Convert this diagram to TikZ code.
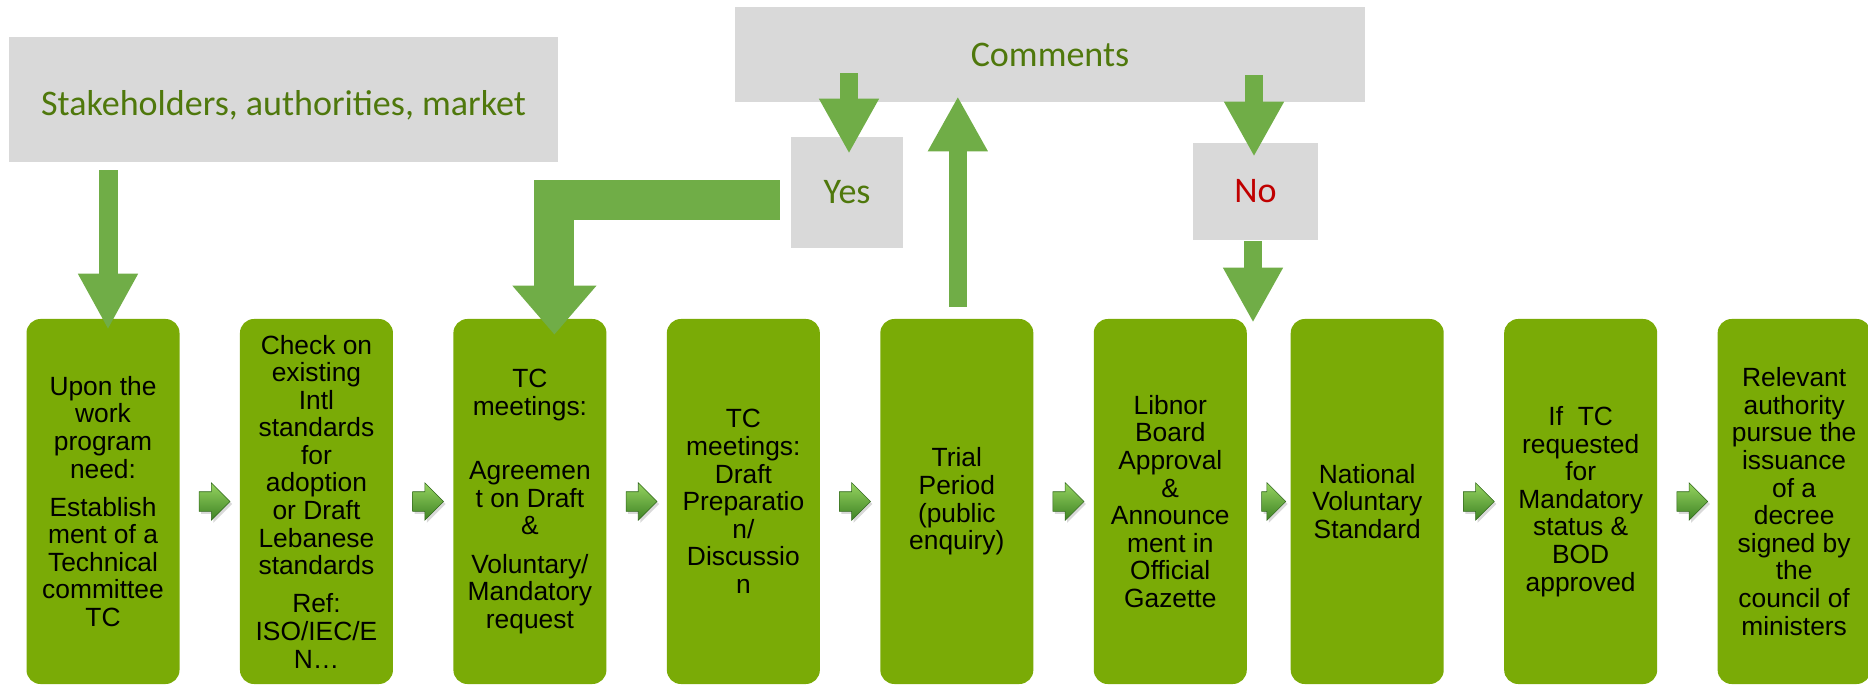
\documentclass[tikz,border=0pt]{standalone}
\usepackage{fontspec}
\setmainfont{Liberation Sans}
\newfontfamily\calfont{Carlito}
\usetikzlibrary{calc,positioning,arrows.meta,shapes.arrows,shadows}
\definecolor{boxgreen}{RGB}{122,171,6}
\definecolor{flowgreen}{RGB}{112,173,71}
\definecolor{notegray}{RGB}{217,217,217}
\definecolor{notetext}{RGB}{79,120,12}
\definecolor{notered}{RGB}{192,0,0}
\definecolor{tiplight}{RGB}{150,212,96}
\definecolor{tipdark}{RGB}{62,130,36}

\begin{document}
\begin{tikzpicture}
      \tikzset{
	  stagebox/.style={rectangle, rounded corners=0.28cm, fill=boxgreen, minimum width=3.06cm, minimum height=7.3cm, inner sep=0pt, align=center, font=\fontsize{15}{15.7}\selectfont},
	  notebox/.style={rectangle, fill=notegray, inner sep=0pt, text=notetext, font=\calfont\fontsize{20.5}{24}\selectfont},
	  nextarrow/.style={single arrow, single arrow head extend=0.18cm, text height=0.38cm, text depth=0pt, minimum height=0.62cm, inner sep=0pt, draw=tipdark!80!black, line width=0.3pt, top color=tiplight, bottom color=tipdark, drop shadow={opacity=0.3, shadow xshift=0.04cm, shadow yshift=-0.05cm}},
	  bigarrow/.style={draw=flowgreen, line width=0.36cm, -{Triangle[length=1.1cm, width=1.12cm]}},
      }
      \useasboundingbox (0,0) rectangle (37.36,-13.72);

      % grey boxes on top
      \node (stake) at (5.67,-1.99) [notebox, minimum width=10.96cm, minimum height=2.5cm, text height=0.72cm] {Stakeholders, authorities, market};
      \node (comments) at (21.0,-1.09) [notebox, minimum width=12.6cm, minimum height=1.9cm] {Comments};
      \node (yes) at (16.94,-3.85) [notebox, minimum width=2.24cm, minimum height=2.22cm] {Yes};
      \node (no) at (25.11,-3.83) [notebox, minimum width=2.5cm, minimum height=1.94cm, text=notered] {No};

      % the stages
      \node (b1) at (2.06,-10.03) [stagebox] {Upon the\\work\\program\\need:\\[6pt]Establish\\ment of a\\Technical\\committee\\TC};
      \node (b2) [stagebox, right=1.195cm of b1] {Check on\\existing\\Intl\\standards\\for\\adoption\\or Draft\\Lebanese\\standards\\[6pt]Ref:\\ISO/IEC/E\\N…};
      \node (b3) [stagebox, right=1.195cm of b2] {TC\\meetings:\\[21pt]Agreemen\\t on Draft\\\&\\[6pt]Voluntary/\\Mandatory\\request};
      \node (b4) [stagebox, right=1.195cm of b3] {TC\\meetings:\\Draft\\Preparatio\\n/\\Discussio\\n};
      \node (b5) [stagebox, right=1.195cm of b4] {Trial\\Period\\(public\\enquiry)};
      \node (b6) [stagebox, right=1.195cm of b5] {Libnor\\Board\\Approval\\\&\\Announce\\ment in\\Official\\Gazette};
      \node (b7) [stagebox, right=0.865cm of b6] {National\\Voluntary\\Standard};
      \node (b8) [stagebox, right=1.195cm of b7] {If~~TC\\requested\\for\\Mandatory\\status \&\\BOD\\approved};
      \node (b9) [stagebox, right=1.195cm of b8] {Relevant\\authority\\pursue the\\issuance\\of a\\decree\\signed by\\the\\council of\\ministers};

      % small arrows between stages
      \node (n12) at ($(b1.east)!0.5!(b2.west)$) [nextarrow] {};
      \node (n23) at ($(b2.east)!0.5!(b3.west)$) [nextarrow] {};
      \node (n34) at ($(b3.east)!0.5!(b4.west)$) [nextarrow] {};
      \node (n45) at ($(b4.east)!0.5!(b5.west)$) [nextarrow] {};
      \node (n56) at ($(b5.east)!0.5!(b6.west)$) [nextarrow] {};
      \node (n67) at ($(b6.east)!0.5!(b7.west)$) [nextarrow, minimum height=0.48cm] {};
      \node (n78) at ($(b7.east)!0.5!(b8.west)$) [nextarrow] {};
      \node (n89) at ($(b8.east)!0.5!(b9.west)$) [nextarrow] {};

      % big arrows
      \draw [bigarrow, line width=0.38cm, -{Triangle[length=1.12cm, width=1.12cm]}] ($(stake.south -| b1.north)+(0.1,-0.16)$) -- ($(b1.north)+(0.1,-0.22)$);
      \draw [bigarrow, line width=0.8cm, line join=miter, -{Triangle[length=0.98cm, width=1.62cm]}] ($(yes.west)+(-0.22,-0.16)$) -| ($(b3.north)+(0.49,-0.32)$);
      \draw [bigarrow] ($(comments.south -| yes.north)+(0.04,0.58)$) -- ($(yes.north)+(0.04,-0.34)$);
      \draw [bigarrow] ($(b5.north)+(0.02,0.24)$) -- ($(comments.south -| b5.north)+(0.02,0.12)$);
      \draw [bigarrow] ($(comments.south -| no.north)+(-0.03,0.54)$) -- ($(no.north)+(-0.03,-0.28)$);
      \draw [bigarrow] ($(no.south)+(-0.05,-0.02)$) -- ($(no.south |- b6.north)+(-0.05,-0.08)$);
\end{tikzpicture}
\end{document}
